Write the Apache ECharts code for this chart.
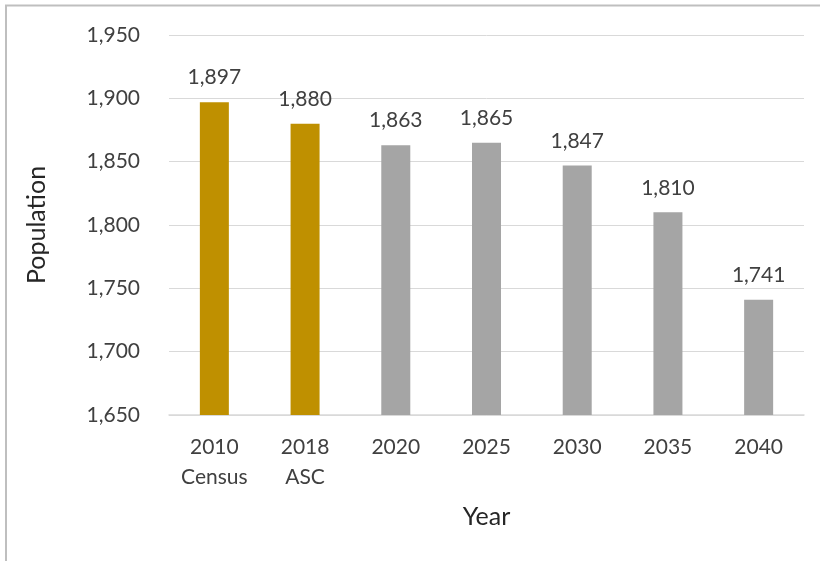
<!DOCTYPE html>
<html>
<head>
<meta charset="utf-8">
<script src="https://cdn.jsdelivr.net/npm/echarts@6/dist/echarts.min.js"></script>
<style>
  html, body { margin: 0; padding: 0; background: #fff; }
  #chart { width: 820px; height: 561px; }
</style>
</head>
<body>
<div id="chart"></div>
<script>
const categories = ['2010\nCensus', '2018\nASC', '2020', '2025', '2030', '2035', '2040'];
const population = [1897, 1880, 1863, 1865, 1847, 1810, 1741];
const isObserved = [true, true, false, false, false, false, false];
const yTicks = [1650, 1700, 1750, 1800, 1850, 1900, 1950];

const gold = '#BF9000';
const grey = '#A5A5A5';
const textColor = '#404040';
const font = 'Lato, "Open Sans", sans-serif';

const myChart = echarts.init(document.getElementById('chart'));

const option = {
  animation: false,
  textStyle: { fontFamily: font },
  graphic: [
    {
      type: 'polyline',
      shape: { points: [[6, 600], [6, 5.5], [830, 5.5]] },
      style: { stroke: '#BFBFBF', lineWidth: 2, fill: null },
      silent: true
    }
  ],
  grid: { left: 169, right: 16, top: 35, bottom: 146 },
  xAxis: {
    type: 'category',
    data: categories,
    name: 'Year',
    nameLocation: 'middle',
    nameGap: 102,
    nameTextStyle: { fontSize: 25, color: '#262626', fontFamily: font, verticalAlign: 'middle' },
    axisLine: { lineStyle: { color: '#D9D9D9', width: 1.5 } },
    axisTick: { show: false },
    axisLabel: {
      fontSize: 21,
      color: textColor,
      lineHeight: 30,
      margin: 17,
      fontFamily: font
    }
  },
  yAxis: {
    type: 'value',
    min: yTicks[0],
    max: yTicks[yTicks.length - 1],
    interval: 50,
    name: 'Population',
    nameLocation: 'middle',
    nameGap: 132,
    nameTextStyle: { fontSize: 25, color: '#262626', fontFamily: font, verticalAlign: 'middle' },
    axisLine: { show: false },
    axisTick: { show: false },
    splitLine: { lineStyle: { color: '#D9D9D9', width: 1 } },
    axisLabel: {
      fontSize: 21,
      color: textColor,
      margin: 29,
      fontFamily: font,
      formatter: v => v.toLocaleString('en-US')
    }
  },
  series: [
    {
      type: 'bar',
      barWidth: 29,
      data: population.map((v, i) => ({
        value: v,
        itemStyle: { color: isObserved[i] ? gold : grey }
      })),
      label: {
        show: true,
        position: 'top',
        distance: 14,
        fontSize: 21,
        color: textColor,
        fontFamily: font,
        formatter: p => p.value.toLocaleString('en-US')
      }
    }
  ]
};

myChart.setOption(option);
</script>
</body>
</html>
